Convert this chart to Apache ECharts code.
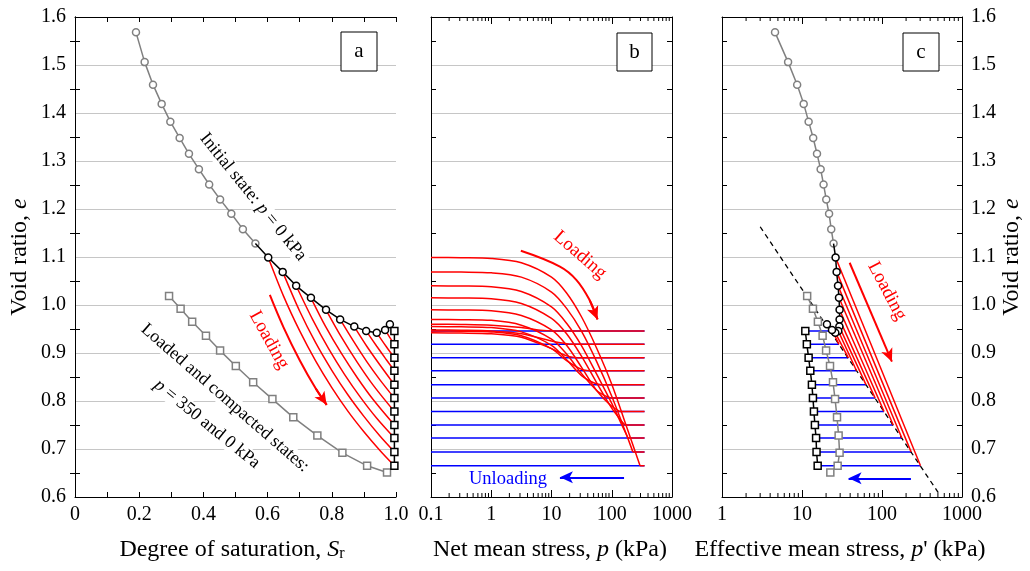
<!DOCTYPE html>
<html><head><meta charset="utf-8">
<script src="https://cdn.jsdelivr.net/npm/echarts@6/dist/echarts.min.js"></script>
<style>html,body{margin:0;padding:0;background:#fff}#c{width:1030px;height:571px}</style>
</head><body><div id="c"></div>
<script>
// ---------------- DATA ----------------
// Panel a: degree of saturation vs void ratio
const grayInitSr = [0.190,0.217,0.243,0.270,0.297,0.326,0.355,0.386,0.418,0.452,0.487,0.523,0.562];
const grayInitE  = [1.568,1.506,1.459,1.419,1.382,1.348,1.315,1.283,1.251,1.220,1.190,1.158,1.128];
const blackInitSr = [0.602,0.647,0.689,0.735,0.782,0.826,0.870,0.907,0.940,0.966,0.981];
const blackInitE  = [1.099,1.069,1.040,1.015,0.990,0.970,0.955,0.946,0.942,0.948,0.960];
const compSr = [0.293,0.329,0.365,0.408,0.452,0.501,0.555,0.615,0.680,0.755,0.833,0.910,0.972];
const compE  = [1.019,0.992,0.965,0.936,0.905,0.873,0.839,0.804,0.766,0.728,0.692,0.665,0.651];
const finalSr = [0.995,0.995,0.995,0.995,0.995,0.995,0.995,0.995,0.995,0.995,0.995];
const finalE  = [0.665,0.694,0.723,0.750,0.778,0.806,0.834,0.863,0.890,0.918,0.946];
const loadA = [
  [[0.602,1.099],[0.65,1.018],[0.70,0.946],[0.75,0.883],[0.80,0.828],[0.85,0.779],[0.90,0.736],[0.95,0.697],[0.995,0.665]],
  [[0.647,1.069],[0.70,0.987],[0.75,0.921],[0.80,0.864],[0.85,0.813],[0.90,0.768],[0.95,0.727],[0.995,0.694]],
  [[0.689,1.040],[0.74,0.970],[0.79,0.909],[0.84,0.855],[0.89,0.807],[0.94,0.764],[0.995,0.723]],
  [[0.735,1.015],[0.78,0.956],[0.83,0.899],[0.88,0.848],[0.93,0.802],[0.995,0.750]],
  [[0.782,0.990],[0.83,0.933],[0.88,0.880],[0.93,0.832],[0.995,0.778]],
  [[0.826,0.970],[0.87,0.922],[0.91,0.881],[0.95,0.844],[0.995,0.806]],
  [[0.870,0.955],[0.91,0.913],[0.95,0.875],[0.995,0.834]],
  [[0.907,0.946],[0.94,0.914],[0.97,0.886],[0.995,0.863]],
  [[0.940,0.942],[0.97,0.913],[0.995,0.890]],
  [[0.966,0.948],[0.98,0.933],[0.995,0.918]],
  [[0.981,0.960],[0.995,0.946]]
];
const arrowA = [[0.607,1.021],[0.65,0.953],[0.70,0.885],[0.75,0.826],[0.784,0.792]];

// Panel b: net mean stress vs void ratio (loading curves up to saturation point)
const loadB = [
  [[0.1,1.099],[0.316,1.0985],[1,1.097],[3.16,1.088],[10,1.058],[17.8,1.025],[31.6,0.975],[56.2,0.910],[100,0.835],[178,0.745],[295,0.665]],
  [[0.1,1.069],[0.316,1.0685],[1,1.067],[3.16,1.058],[10,1.027],[17.8,0.993],[31.6,0.945],[56.2,0.882],[100,0.810],[178,0.728],[224,0.694]],
  [[0.1,1.040],[0.316,1.0395],[1,1.038],[3.16,1.028],[10,0.996],[17.8,0.962],[31.6,0.915],[56.2,0.856],[100,0.795],[141,0.755],[186,0.723]],
  [[0.1,1.015],[0.316,1.0145],[1,1.013],[3.16,1.003],[10,0.972],[17.8,0.940],[31.6,0.893],[56.2,0.838],[100,0.785],[141,0.760],[166,0.750]],
  [[0.1,0.990],[0.316,0.9895],[1,0.988],[3.16,0.978],[10,0.948],[17.8,0.916],[31.6,0.870],[56.2,0.822],[100,0.789],[137,0.778]],
  [[0.1,0.970],[0.316,0.9695],[1,0.968],[3.16,0.958],[10,0.929],[17.8,0.898],[31.6,0.857],[56.2,0.822],[80,0.810],[99,0.806]],
  [[0.1,0.955],[0.316,0.9545],[1,0.953],[3.16,0.944],[10,0.916],[17.8,0.886],[31.6,0.853],[50,0.838],[66,0.834]],
  [[0.1,0.946],[0.316,0.9455],[1,0.944],[3.16,0.936],[10,0.909],[17.8,0.884],[31.6,0.866],[46,0.863]],
  [[0.1,0.942],[0.316,0.9415],[1,0.940],[3.16,0.933],[10,0.909],[17.8,0.894],[27,0.890]],
  [[0.1,0.948],[0.316,0.9475],[1,0.946],[3.16,0.940],[10,0.925],[20,0.918]],
  [[0.1,0.960],[0.316,0.9595],[1,0.958],[3.16,0.953],[6,0.948],[10,0.946]]
];
const maxPB = 350, minPB = 0.1;
const arrowB = [[3.1,1.113],[13.8,1.080],[26,1.052],[43,1.010],[58,0.970]];
const arrowBUnload = [[160,0.641],[13.8,0.641]];

// Panel c: effective mean stress vs void ratio
const grayInitP  = [4.6,6.7,8.7,10.5,12.1,13.8,15.4,17.1,18.6,20.1,21.8,23.2,24.8];
const blackInitP = [26.3,27.1,28.2,29.0,29.5,29.5,29.3,28.4,26.1,23.7,20.5];
const compP      = [11.6,13.7,15.8,18.1,20.0,22.4,24.4,25.9,27.4,28.7,29.5,27.9,22.6];
const unloadedP  = [15.7,15.2,15.0,14.5,14.1,13.7,13.3,12.7,12.1,11.5,11.0];
const nclP       = [303,231,177,138,106,82,63,48,38,29,22.4];
const nclLine    = [[3.0,1.163],[510,0.608]];
const arrowC       = [[39.4,1.088],[133,0.882]];
const arrowCUnload = [[230,0.639],[38.2,0.639]];

// Axis ticks
const eMin = 0.6, eMax = 1.6;
const minorTicksB = [0.2,0.3,0.4,0.5,0.6,0.7,0.8,0.9,2,3,4,5,6,7,8,9,20,30,40,50,60,70,80,90,200,300,400,500,600,700,800,900];
const minorTicksC = [2,3,4,5,6,7,8,9,20,30,40,50,60,70,80,90,200,300,400,500,600,700,800,900];

// ---------------- CHART ----------------
const FONT = 'Liberation Serif';
const RED = '#ff0000', BLUE = '#0000ff', GRAY = '#808080';
const chart = echarts.init(document.getElementById('c'), null, {renderer:'canvas'});

const grids = [
  {left:75, top:17, width:321, height:480},
  {left:431, top:17, width:241, height:480},
  {left:722, top:17, width:240, height:480}
];
const axLine = {show:true, lineStyle:{color:'#000', width:1}};
const lbl = {fontSize:20, fontFamily:FONT, color:'#000'};

function xAx(g, type, pos, show, extra) {
  return Object.assign({
    gridIndex:g, type:type, position:pos, axisLine:axLine,
    axisTick:{show:true, inside:true, length:(type==='log'?7:5), lineStyle:{color:'#000'}},
    axisLabel:Object.assign({show:show, margin:8}, lbl),
    splitLine:{show:false}, minorTick:{show:false}
  }, extra);
}
function yAx(g, pos, show) {
  return {
    gridIndex:g, type:'value', position:pos, min:eMin, max:eMax, interval:0.1,
    axisLine:axLine,
    axisTick:{show:false, inside:true},
    minorTick:{show:true, splitNumber:2, length:5, lineStyle:{color:'#000', width:1}},
    axisLabel:Object.assign({show:show, margin:9, formatter:v=>v.toFixed(1)}, lbl),
    splitLine:{show:pos==='left', lineStyle:{color:'#c6c6c6', width:1}}
  };
}
const fmtSr = v => { const k = Math.round(v*10); if (k%2) return ''; return k===0 ? '0' : (k/10).toFixed(1); };
const fmtLog = v => String(+(+v).toPrecision(6));

const xAxis = [
  xAx(0,'value','bottom',true,{min:0,max:1,interval:0.1,axisLabel:Object.assign({show:true,margin:8,formatter:fmtSr},lbl)}),
  xAx(0,'value','top',false,{min:0,max:1,interval:0.1}),
  xAx(1,'log','bottom',true,{min:0.1,max:1000,logBase:10,axisLabel:Object.assign({show:true,margin:8,formatter:fmtLog},lbl)}),
  xAx(1,'log','top',false,{min:0.1,max:1000,logBase:10}),
  xAx(2,'log','bottom',true,{min:1,max:1000,logBase:10,axisLabel:Object.assign({show:true,margin:8,formatter:fmtLog},lbl)}),
  xAx(2,'log','top',false,{min:1,max:1000,logBase:10})
];
const yAxis = [
  yAx(0,'left',true), yAx(0,'right',false),
  yAx(1,'left',false), yAx(1,'right',false),
  yAx(2,'left',false), yAx(2,'right',true)
];

const series = [];
function line(xi, yi, data, color, width, opt) {
  series.push(Object.assign({
    type:'line', xAxisIndex:xi, yAxisIndex:yi, data:data, symbol:'none',
    lineStyle:{color:color, width:width}, itemStyle:{color:color},
    silent:true, animation:false, z:3, clip:true
  }, opt||{}));
}
function markers(xi, yi, data, color, sym, z) {
  series.push({
    type:'line', xAxisIndex:xi, yAxisIndex:yi, data:data, symbol:sym, symbolSize:7,
    showSymbol:true,
    lineStyle:{color:color, width:1.5},
    itemStyle:{color:'#fff', borderColor:color, borderWidth:1.5},
    silent:true, animation:false, z:z, clip:false
  });
}
function arrowMark(xi, yi, from, to, color) {
  series.push({
    type:'line', xAxisIndex:xi, yAxisIndex:yi, data:[], silent:true, animation:false, z:6,
    markLine:{
      silent:true, animation:false, symbol:['none','arrow'], symbolSize:[9,13],
      label:{show:false}, lineStyle:{color:color, width:2, type:'solid'},
      data:[[{coord:from},{coord:to}]]
    }
  });
}
function minorTicks(xi, yi, vals) {
  series.push({
    type:'custom', xAxisIndex:xi, yAxisIndex:yi, silent:true, animation:false, clip:false, z:4,
    data: vals.map(v=>[v, eMin]),
    renderItem:(params, api) => {
      const v = api.value(0);
      const b = api.coord([v, eMin]); const t = api.coord([v, eMax]);
      return {type:'group', children:[
        {type:'line', shape:{x1:b[0], y1:b[1], x2:b[0], y2:b[1]-4}, style:{stroke:'#000', lineWidth:1}},
        {type:'line', shape:{x1:t[0], y1:t[1], x2:t[0], y2:t[1]+4}, style:{stroke:'#000', lineWidth:1}}
      ]};
    }
  });
}
const zip = (xs, ys) => xs.map((x,i)=>[x, ys[i]]);
const last = a => a[a.length-1];

// ---- Panel a ----
loadA.forEach(c => line(0,0,c,RED,1.5,{smooth:0.3}));
line(0,0,arrowA,RED,2,{smooth:0.4,z:6});
arrowMark(0,0,arrowA[arrowA.length-2],last(arrowA),RED);
markers(0,0,zip(grayInitSr,grayInitE),GRAY,'circle',5);
markers(0,0,[{value:[last(grayInitSr),last(grayInitE)],symbol:'none'}].concat(zip(blackInitSr,blackInitE)),'#000','circle',7);
markers(0,0,zip(compSr,compE),GRAY,'rect',5);
markers(0,0,zip(finalSr,finalE),'#000','rect',7);

// ---- Panel b ----
finalE.forEach(e => line(2,2,[[maxPB,e],[minPB,e]],BLUE,1.5,{z:2}));
loadB.forEach(c => {
  line(2,2,c,RED,1.5,{smooth:0.3});
  const end = last(c);
  line(2,2,[end,[maxPB,end[1]]],RED,1.5);
});
line(2,2,arrowB,RED,2,{smooth:0.4,z:6});
arrowMark(2,2,arrowB[arrowB.length-2],last(arrowB),RED);
arrowMark(2,2,arrowBUnload[0],arrowBUnload[1],BLUE);
minorTicks(2,2,minorTicksB);

// ---- Panel c ----
finalE.forEach((e,i) => line(4,4,[[unloadedP[i],e],[nclP[i],e]],BLUE,1.5,{z:2}));
blackInitE.forEach((e,i) => line(4,4,[[blackInitP[i],e],[nclP[i],finalE[i]]],RED,1.5));
line(4,4,nclLine,'#000',1.3,{lineStyle:{color:'#000',width:1.3,type:[5,4]},z:2});
arrowMark(4,4,arrowC[0],arrowC[1],RED);
arrowMark(4,4,arrowCUnload[0],arrowCUnload[1],BLUE);
markers(4,4,zip(grayInitP,grayInitE),GRAY,'circle',5);
markers(4,4,[{value:[last(grayInitP),last(grayInitE)],symbol:'none'}].concat(zip(blackInitP,blackInitE)),'#000','circle',7);
markers(4,4,zip(compP,compE),GRAY,'rect',5);
markers(4,4,zip(unloadedP,finalE),'#000','rect',7);
minorTicks(4,4,minorTicksC);

// ---- Texts ----
const rich = (size) => ({
  i:{fontStyle:'italic', fontSize:size, fontFamily:FONT},
  s:{fontSize:Math.round(size*0.68), fontFamily:FONT, lineHeight:8, verticalAlign:'bottom'}
});
function txt(x, y, rotDeg, text, size, color, bg) {
  return {type:'text', x:x, y:y, rotation:rotDeg*Math.PI/180, z:1, silent:true,
    style:Object.assign({text:text, fontSize:size, fontFamily:FONT, fill:color||'#000',
      align:'center', verticalAlign:'middle', rich:rich(size)},
      bg ? {backgroundColor:'#fff', padding:[0,3]} : {})};
}
function box(x, y, w, h, letter) {
  return [
    {type:'rect', shape:{x:x,y:y,width:w,height:h}, z:1, silent:true, style:{fill:'#fff', stroke:'#000', lineWidth:1}},
    {type:'text', x:x+w/2, y:y+h/2, z:1, silent:true, style:{text:letter, fontSize:21, fontFamily:FONT, fill:'#000', align:'center', verticalAlign:'middle'}}
  ];
}
const graphic = [
  txt(253,197,-51,'Initial state: {i|p} = 0 kPa',18,'#000',true),
  txt(225,398,-41,'Loaded and compacted states:',18,'#000',true),
  txt(207,424,-39,'{i|p} = 350 and 0 kPa',18,'#000',true),
  txt(269,340,-61,'Loading',19,RED,false),
  txt(580,255,-41,'Loading',19,RED,false),
  txt(887,291,-62,'Loading',19,RED,false),
  txt(508,479,0,'Unloading',18.5,BLUE,false),
  txt(20,257,90,'Void ratio, {i|e}',24,'#000',false),
  txt(1012,257,90,'Void ratio, {i|e}',24,'#000',false),
  txt(232,550,0,'Degree of saturation, {i|S}{s|r}',24,'#000',false),
  txt(550,550,0,'Net mean stress, {i|p} (kPa)',24,'#000',false),
  txt(840,550,0,"Effective mean stress, {i|p}' (kPa)",24,'#000',false)
].concat(box(341,32,36,39,'a'), box(617,33,35,38,'b'), box(903,33,36,38,'c'));

chart.setOption({
  animation:false, backgroundColor:'#fff',
  grid:grids, xAxis:xAxis, yAxis:yAxis, series:series, graphic:graphic
});
</script></body></html>
